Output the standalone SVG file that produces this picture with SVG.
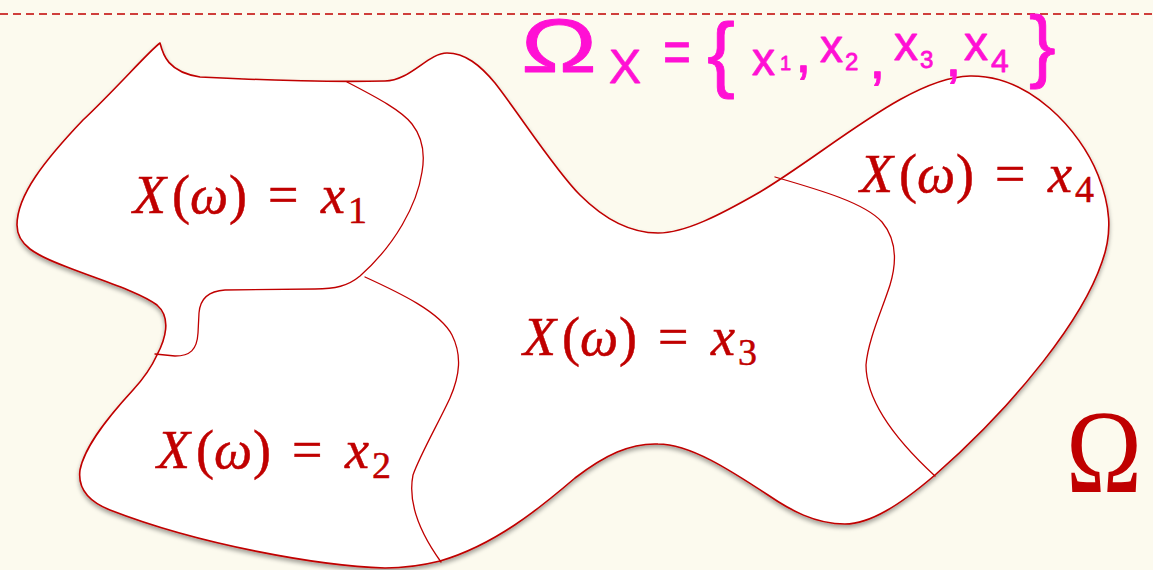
<svg xmlns="http://www.w3.org/2000/svg" width="1153" height="570" viewBox="0 0 1153 570">
<style>
.bg{fill:#FCFAEE}
.dash{stroke:#C00000;stroke-width:1.3;stroke-dasharray:8 5;fill:none}
.outline{fill:#FFFFFF;stroke:#C00000;stroke-width:1.6;stroke-linejoin:round}
.part{fill:none;stroke:#C00000;stroke-width:1.3;stroke-linecap:round}
.lbl{font-family:"Liberation Serif","Times New Roman",serif;font-size:54px;fill:#C00000;stroke:#C00000;stroke-width:0.5}
.it{font-style:italic}
.sub{font-size:38px;font-style:normal}
.omega{font-family:"Liberation Serif","Times New Roman",serif;font-size:118px;fill:#C00000}
.hw{font-family:"Liberation Sans",Arial,sans-serif;fill:#FF10D4;stroke:#FF10D4;stroke-width:0.8;stroke-linejoin:round}
</style>
<defs>
<filter id="shadow" x="-5%" y="-5%" width="110%" height="115%">
<feDropShadow dx="0" dy="3" stdDeviation="2.2" flood-color="#000" flood-opacity="0.35"/>
</filter>
</defs>
<rect class="bg" x="0" y="0" width="1153" height="570"/>
<line class="dash" x1="0" y1="14" x2="1153" y2="14"/>

<g id="sample-space">
<path class="outline" filter="url(#shadow)" d="M160,43 C163,55 168,72 200,77 C260,80 340,82 385,81 C410,81 428,53 447,53 C465,53 480,65 495,83 C520,115 555,170 580,195 C605,220 630,233 658,233 C685,233 720,215 760,192 C830,150 910,77 970,76 C1030,75 1080,130 1098,175 C1110,205 1113,232 1102,262 C1083,318 1020,400 935,475 C900,505 870,524 845,524 C815,524 790,510 768,495 C730,470 690,444 658,444 C630,443 605,455 575,478 C540,508 495,545 440,561 C420,566 400,568 385,568 C320,566 200,545 110,510 C85,500 78,485 80,470 C85,445 110,415 133,390 C145,377 152,366 157,355 C165,340 172,318 157,305 C140,292 100,280 67,267 C35,255 17,245 17,225 C17,195 45,160 83,120 C115,90 150,50 160,43 Z"/>
</g>

<g id="partitions">
<path class="part" d="M347,82 C378,98 402,111 412,124 C423,138 425,155 422,172 C417,205 395,245 360,276 C348,286 335,289 315,289 L225,290 C207,291 200,300 199,313 L198,333 C197,350 190,356 175,356 L155,354"/>
<path class="part" d="M365,277 C400,293 440,312 452,335 C462,355 460,375 450,398 C440,420 420,455 413,475 C408,500 418,530 441,562"/>
<path class="part" d="M775,177 C820,190 865,203 882,222 C897,240 897,262 890,285 C882,310 868,340 866,365 C866,395 885,430 935,476"/>
</g>

<g id="region-x1" transform="translate(133,213)">
<text class="lbl" x="0" y="0"><tspan class="it">X</tspan><tspan x="39">(</tspan><tspan class="it" x="57">ω</tspan><tspan x="96">)</tspan><tspan x="135">=</tspan><tspan class="it" x="188">x</tspan><tspan class="sub" x="215" dy="10">1</tspan></text>
</g>
<g id="region-x2" transform="translate(157,468)">
<text class="lbl" x="0" y="0"><tspan class="it">X</tspan><tspan x="39">(</tspan><tspan class="it" x="57">ω</tspan><tspan x="96">)</tspan><tspan x="135">=</tspan><tspan class="it" x="188">x</tspan><tspan class="sub" x="215" dy="10">2</tspan></text>
</g>
<g id="region-x3" transform="translate(523,355)">
<text class="lbl" x="0" y="0"><tspan class="it">X</tspan><tspan x="39">(</tspan><tspan class="it" x="57">ω</tspan><tspan x="96">)</tspan><tspan x="135">=</tspan><tspan class="it" x="188">x</tspan><tspan class="sub" x="215" dy="10">3</tspan></text>
</g>
<g id="region-x4" transform="translate(860,192)">
<text class="lbl" x="0" y="0"><tspan class="it">X</tspan><tspan x="39">(</tspan><tspan class="it" x="57">ω</tspan><tspan x="96">)</tspan><tspan x="135">=</tspan><tspan class="it" x="188">x</tspan><tspan class="sub" x="215" dy="10">4</tspan></text>
</g>

<g id="omega-label">
<text class="omega" x="1066" y="492" textLength="76" lengthAdjust="spacingAndGlyphs">Ω</text>
</g>

<g id="handwritten-range">
<text class="hw" x="521" y="72" font-size="76" stroke-width="0" textLength="76" lengthAdjust="spacingAndGlyphs">Ω</text>
<text class="hw" x="609" y="83" font-size="48">X</text>
<text class="hw" x="663" y="72" font-size="60" textLength="28" lengthAdjust="spacingAndGlyphs">=</text>
<text class="hw" x="707" y="82" font-size="84">{</text>
<text class="hw" x="752" y="75" font-size="46">x</text>
<text class="hw" x="780" y="70" font-size="20">1</text>
<text class="hw" x="795" y="72" font-size="60">,</text>
<text class="hw" x="820" y="62" font-size="46">x</text>
<text class="hw" x="845" y="70" font-size="24">2</text>
<text class="hw" x="869" y="78" font-size="60">,</text>
<text class="hw" x="894" y="60" font-size="48">x</text>
<text class="hw" x="920" y="68" font-size="24">3</text>
<text class="hw" x="945" y="76" font-size="60">,</text>
<text class="hw" x="964" y="60" font-size="48">x</text>
<text class="hw" x="991" y="72" font-size="32">4</text>
<text class="hw" x="1029" y="72" font-size="80">}</text>
</g>
</svg>
